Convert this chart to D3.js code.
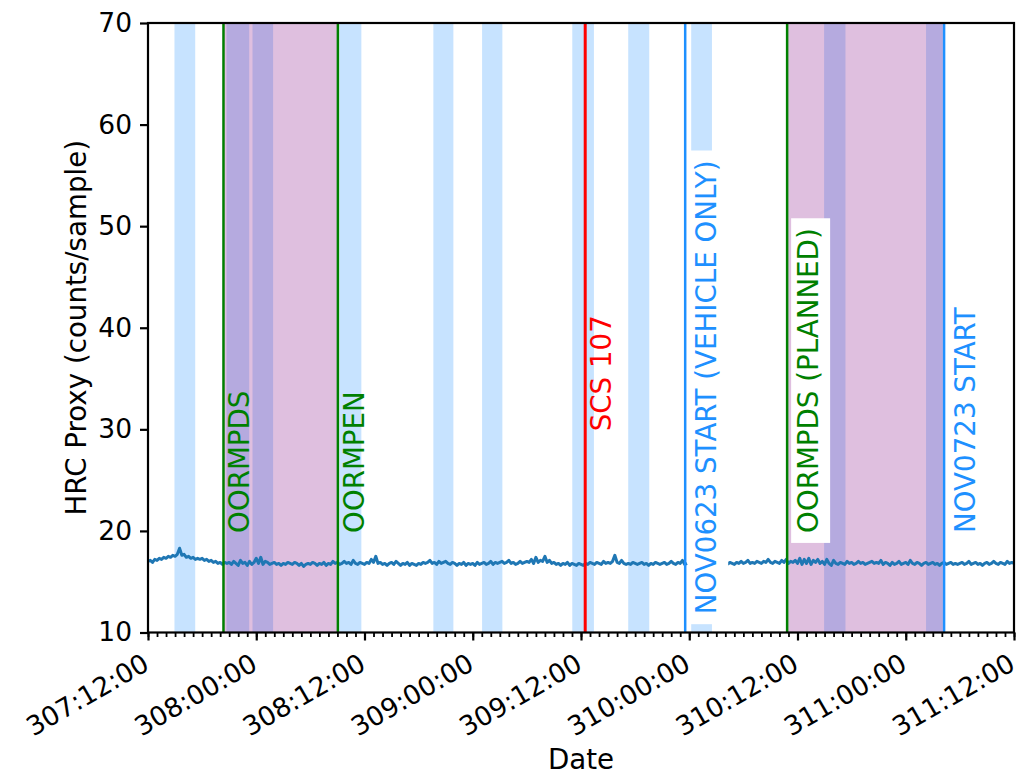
<!DOCTYPE html>
<html>
<head>
<meta charset="utf-8">
<script src="https://cdn.jsdelivr.net/npm/d3@7"></script>
<style>
  body { margin: 0; background: #fff; }
  svg { font-family: "DejaVu Sans", sans-serif; }
</style>
</head>
<body>
<div id="chart"></div>
<script>
// HRC proxy samples, every 15 minutes starting 307:12:00 (null = no data)
const sampleStart = "307:12:00";
const sampleStepMin = 15;
const hrcValues = [
  17.0, 17.1, 16.9, 17.2, 17.1, 17.3, 17.2, 17.4, 17.3, 17.5, 17.4, 17.6,
  17.5, 17.7, 18.3, 17.6, 17.7, 17.4, 17.5, 17.3, 17.4, 17.2, 17.3, 17.2,
  17.3, 17.1, 17.2, 17.0, 17.1, 16.9, 17.0, 16.8, 16.9, 16.7, 16.9, 16.8,
  16.9, 16.7, 17.0, 16.8, 16.6, 17.1, 16.8, 16.9, 16.6, 17.0, 16.7, 16.9,
  17.3, 16.8, 17.4, 16.7, 17.0, 16.9, 16.7, 16.8, 16.9, 16.7, 16.8, 16.6,
  16.8, 16.7, 16.9, 16.8, 16.7, 16.9, 16.8, 16.6, 16.8, 16.5, 16.7, 16.8,
  16.7, 16.9, 16.8, 16.6, 16.8, 16.7, 16.9, 16.6, 16.8, 16.7, 17.0, 16.8,
  16.9, 16.7, 16.8, 17.0, 16.8, 16.9, 16.7, 17.1, 16.8, 16.7, 16.9, 16.8,
  16.7, 16.9, 16.8, 17.2, 16.9, 17.5, 16.8, 16.9, 16.7, 16.8, 16.6, 16.8,
  16.9, 16.7, 17.0, 16.8, 16.6, 16.8, 16.7, 16.9, 16.6, 16.8, 16.7, 16.6,
  16.8, 16.7, 16.9, 16.8, 16.9, 17.1, 16.8, 16.9, 16.7, 17.0, 16.8, 16.9,
  17.0, 16.8, 16.7, 16.9, 16.8, 16.6, 16.8, 16.7, 16.9, 16.6, 16.8, 16.7,
  16.8, 16.6, 16.9, 16.7, 16.8, 16.9, 16.7, 16.8, 17.0, 16.7, 16.9, 16.8,
  16.9, 17.0, 16.8, 16.9, 17.1, 16.8, 16.9, 16.7, 16.8, 17.0, 16.8, 16.9,
  17.0, 16.9, 17.2, 16.8, 17.4, 16.9, 17.1, 17.0, 17.5, 16.9, 17.1, 16.8,
  16.9, 16.7, 16.8, 16.6, 16.8, 16.7, 16.9, 16.6, 16.8, 16.7, 16.6, 16.8,
  16.7, 16.6, 16.8, 16.7, 16.9, 16.8, 16.7, 16.9, 16.8, 16.7, 17.0, 16.8,
  16.9, 16.8, 17.0, 17.6, 16.9, 16.8, 17.1, 16.8, 16.7, 16.8, 16.7, 16.9,
  16.8, 16.7, 16.8, 16.9, 16.7, 16.8, 16.6, 16.8, 16.7, 16.9, 16.8, 16.7,
  16.8, 16.9, 16.7, 16.8, 17.0, 16.8, 16.7, 16.9, 16.8, 17.1, 16.7, 16.8,
  null, null, null, null, null, null, null, null, null, null, null, null,
  null, null, null, null, null, 16.7, 16.9, 16.8, 16.7, 16.9, 16.8, 17.0,
  16.8, 16.9, 17.1, 16.8, 16.9, 16.8, 17.0, 16.9, 16.8, 17.0, 16.9, 17.2,
  16.9, 16.8, 17.0, 16.9, 16.8, 17.1, 16.9, 17.2, 16.8, 17.0, 16.9, 17.1,
  16.8, 17.3, 16.7, 17.2, 16.8, 17.3, 16.7, 17.1, 16.9, 17.2, 16.8, 17.0,
  16.7, 17.2, 16.8, 16.6, 17.1, 16.8, 16.7, 16.9, 16.8, 16.7, 17.0, 16.8,
  16.9, 16.7, 16.8, 17.0, 16.8, 16.9, 16.7, 16.8, 16.9, 17.0, 16.8, 16.9,
  16.8, 17.1, 16.7, 16.9, 16.8, 16.6, 16.9, 16.7, 16.8, 17.0, 16.7, 16.8,
  16.9, 16.7, 17.1, 16.8, 16.7, 16.9, 16.8, 16.6, 16.8, 16.9, 16.7, 16.8,
  16.9, 16.7, 16.8, 16.6, 16.8, 16.9, 16.7, 16.8, 16.9, 16.7, 16.8, 16.7,
  16.8, 16.9, 16.7, 16.8, 17.0, 16.7, 16.8, 16.9, 16.7, 16.8, 16.6, 16.8,
  16.9, 16.7, 16.8, 17.0, 16.8, 16.7, 16.9, 16.8, 16.7, 17.0, 16.8, 16.9,
  16.8
];

// light blue bands (start, stop)
const bandStarts = ["307:14:56", "307:20:42", "307:23:35", "308:09:13", "308:19:38", "309:01:02",
                    "309:11:02", "309:17:14", "310:00:13", "310:14:57", "311:02:15"];
const bandStops  = ["307:17:14", "307:23:13", "308:01:52", "308:11:39", "308:21:51", "309:03:17",
                    "309:13:26", "309:19:34", "310:02:31", "310:17:19", "311:04:06"];

// purple spans (start, stop)
const spanStarts = ["307:20:22", "310:10:51"];
const spanStops  = ["308:09:03", "311:04:15"];

// vertical event lines
const eventTimes  = ["307:20:22", "308:09:03", "309:12:28", "309:23:33", "310:10:51", "311:04:15"];
const eventLabels = ["OORMPDS", "OORMPEN", "SCS 107", "NOV0623 START (VEHICLE ONLY)", "OORMPDS (PLANNED)", "NOV0723 START"];
const eventKinds  = ["oormp", "oormp", "scs", "load", "oormp", "load"];
const eventLabelY = [20, 20, 30, 12, 20, 20];
const boxedLabels = ["NOV0623 START (VEHICLE ONLY)", "OORMPDS (PLANNED)", "NOV0723 START"];

const yTicks = [10, 20, 30, 40, 50, 60, 70];
const xStart = "307:12:00";
const xStop  = "311:12:00";

const kindColor = { oormp: "green", scs: "red", load: "dodgerblue" };

let doy = (s) => {
  const p = s.split(":").map(Number);
  return new Date(Date.UTC(2023, 0, 1) + (((p[0] - 1) * 24 + p[1]) * 60 + p[2]) * 60000);
};

const W = 1016, H = 775;
const margin = { left: 148, right: 2, top: 23, bottom: 142.5 };
const width = W - margin.left - margin.right;
const height = H - margin.top - margin.bottom;

const t0 = doy(sampleStart);
const hrcData = hrcValues.map((v, i) => ({ t: new Date(+t0 + i * sampleStepMin * 60000), v: v }));

const x = d3.scaleUtc().domain([doy(xStart), doy(xStop)]).range([0, width]);
const y = d3.scaleLinear().domain([10, 70]).range([height, 0]);

const svg = d3.select("#chart").append("svg")
  .attr("width", W)
  .attr("height", H);

svg.append("defs").append("clipPath").attr("id", "clip")
  .append("rect").attr("width", width).attr("height", height);

const g = svg.append("g")
  .attr("transform", "translate(" + margin.left + "," + margin.top + ")");

const plot = g.append("g").attr("clip-path", "url(#clip)");

// blue bands
plot.selectAll(".band")
  .data(bandStarts.map((s, i) => [doy(s), doy(bandStops[i])]))
  .enter().append("rect")
  .attr("x", d => x(d[0]))
  .attr("width", d => x(d[1]) - x(d[0]))
  .attr("y", 0)
  .attr("height", height)
  .attr("fill", "dodgerblue")
  .attr("fill-opacity", 0.25);

// purple spans
plot.selectAll(".span")
  .data(spanStarts.map((s, i) => [doy(s), doy(spanStops[i])]))
  .enter().append("rect")
  .attr("x", d => x(d[0]))
  .attr("width", d => x(d[1]) - x(d[0]))
  .attr("y", 0)
  .attr("height", height)
  .attr("fill", "purple")
  .attr("fill-opacity", 0.25);

// data line
const line = d3.line()
  .defined(d => d.v !== null)
  .x(d => x(d.t))
  .y(d => y(d.v));

plot.append("path")
  .datum(hrcData)
  .attr("d", line)
  .attr("fill", "none")
  .attr("stroke", "#1f77b4")
  .attr("stroke-width", 3)
  .attr("stroke-linejoin", "round");

// event lines + labels
const events = eventTimes.map((t, i) => ({
  t: doy(t), label: eventLabels[i], color: kindColor[eventKinds[i]], ly: eventLabelY[i],
  boxed: boxedLabels.indexOf(eventLabels[i]) >= 0
}));

plot.selectAll(".evline")
  .data(events)
  .enter().append("line")
  .attr("x1", d => x(d.t)).attr("x2", d => x(d.t))
  .attr("y1", 0).attr("y2", height)
  .attr("stroke", d => d.color)
  .attr("stroke-width", d => d.color === "red" ? 3 : 2.5);

const labelG = plot.selectAll(".evlabel")
  .data(events)
  .enter().append("g")
  .attr("transform", d => "translate(" + (x(d.t) + (d.boxed ? 31 : 26)) + "," + (y(d.ly) + 2) + ") rotate(-90)");

labelG.each(function(d) {
  const sel = d3.select(this);
  const txt = sel.append("text")
    .attr("x", 0).attr("y", 0)
    .attr("font-size", "27.7px")
    .attr("fill", d.color)
    .text(d.label);
  if (d.boxed) {
    const bb = txt.node().getBBox();
    sel.insert("rect", "text")
      .attr("x", -10)
      .attr("y", -27)
      .attr("width", bb.width + 20)
      .attr("height", 39)
      .attr("fill", "white");
  }
});

// axes
const xAxis = d3.axisBottom(x)
  .ticks(d3.utcHour.every(12))
  .tickFormat(d3.utcFormat("%j:%H:%M"))
  .tickSize(8)
  .tickPadding(8);

const xMinor = d3.axisBottom(x)
  .ticks(d3.utcHour.every(1))
  .tickFormat("")
  .tickSize(4.5);

const yAxis = d3.axisLeft(y)
  .tickValues(yTicks)
  .tickSize(8)
  .tickPadding(8);

g.append("g")
  .attr("class", "axis xminor")
  .attr("transform", "translate(0," + height + ")")
  .call(xMinor);

const gx = g.append("g")
  .attr("class", "axis x")
  .attr("transform", "translate(0," + height + ")")
  .call(xAxis);

gx.selectAll("text")
  .attr("text-anchor", "end")
  .attr("x", 0).attr("y", 0)
  .attr("dy", "0.75em")
  .attr("transform", "translate(-7.5,19) rotate(-30)");

g.append("g")
  .attr("class", "axis y")
  .call(yAxis);

g.selectAll(".axis path.domain").remove();
g.selectAll(".axis line").attr("stroke", "#000").attr("stroke-width", 2.2);
g.selectAll(".xminor line").attr("stroke-width", 1.8);
g.selectAll(".axis text")
  .attr("font-size", "26.5px")
  .attr("font-family", "DejaVu Sans")
  .attr("fill", "#000");

// frame
g.append("rect")
  .attr("width", width)
  .attr("height", height)
  .attr("fill", "none")
  .attr("stroke", "#000")
  .attr("stroke-width", 2.2);

// axis labels
g.append("text")
  .attr("transform", "translate(" + (-62) + "," + (height / 2) + ") rotate(-90)")
  .attr("text-anchor", "middle")
  .attr("font-size", "27.7px")
  .text("HRC Proxy (counts/sample)");

g.append("text")
  .attr("x", width / 2)
  .attr("y", height + 136)
  .attr("text-anchor", "middle")
  .attr("font-size", "27.7px")
  .text("Date");
</script>
</body>
</html>
